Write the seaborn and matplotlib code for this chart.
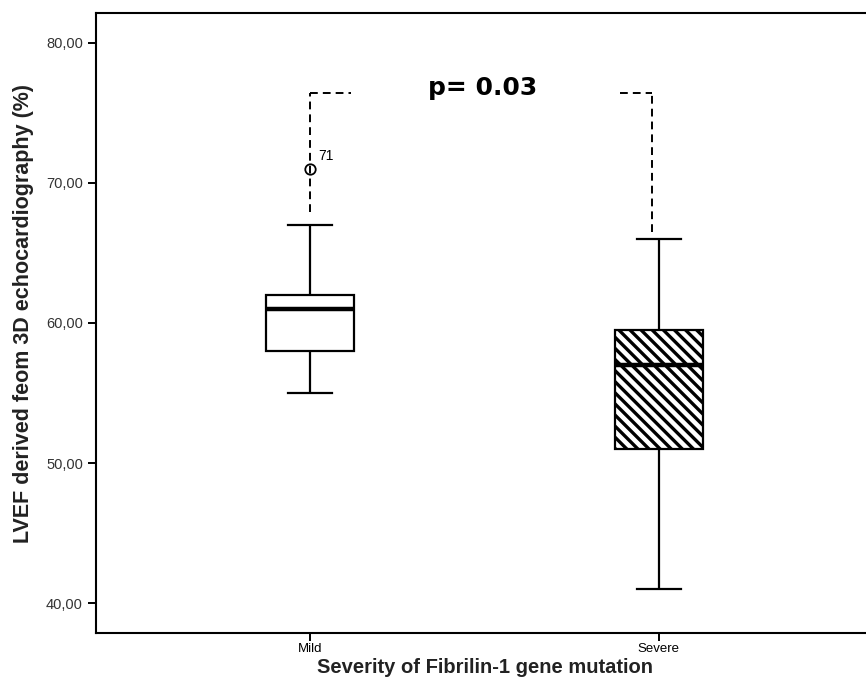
import matplotlib
matplotlib.use("Agg")
import matplotlib.pyplot as plt
import pandas as pd
import seaborn as sns

# data
categories = ["Mild", "Severe"]
mild_lvef = [55, 57, 58, 58, 59, 60, 61, 61, 62, 62, 62, 67, 71]
severe_lvef = [41, 46, 50, 51, 53, 55, 57, 58, 59, 59.5, 62, 64, 66]
y_ticks = [40, 50, 60, 70, 80]
y_tick_labels = ["40,00", "50,00", "60,00", "70,00", "80,00"]
outlier_case = "71"
outlier_value = 71
p_text = "p= 0.03"
bracket_top = 76.4
bracket_bottom = [67.9, 66.5]

df = pd.DataFrame({
    "severity": ["Mild"] * len(mild_lvef) + ["Severe"] * len(severe_lvef),
    "lvef": mild_lvef + severe_lvef,
})

plt.rcParams["font.family"] = ["Liberation Sans", "DejaVu Sans"]
plt.rcParams["hatch.linewidth"] = 2.4

fig = plt.figure(figsize=(8.66, 6.98), dpi=100)
ax = fig.add_axes([0.1109, 0.0931, 0.905, 0.8883])

sns.boxplot(
    data=df, x="severity", y="lvef", order=categories, ax=ax,
    width=0.25, color="white", linecolor="black", linewidth=1.6,
    whis=1.5,
    medianprops={"linewidth": 3.2, "color": "black"},
    flierprops={"marker": "o", "markerfacecolor": "none",
                "markeredgecolor": "black", "markersize": 7.5,
                "markeredgewidth": 1.3},
)
ax.patches[1].set_hatch("\\\\\\")

# dashed brackets for the p-value
dash = (0, (4, 2.6))
ax.plot([0, 0], [bracket_bottom[0], bracket_top], color="black", lw=1.4, ls=dash)
ax.plot([0, 0.117], [bracket_top, bracket_top], color="black", lw=1.4, ls=dash)
ax.plot([0.98, 0.98], [bracket_bottom[1], bracket_top], color="black", lw=1.4, ls=dash)
ax.plot([0.888, 0.98], [bracket_top, bracket_top], color="black", lw=1.4, ls=dash)

ax.text(0.023, outlier_value + 0.9, outlier_case, fontsize=10, va="center", ha="left")
ax.text(0.338, 76.8, p_text, fontsize=18, fontweight="bold",
        family="DejaVu Sans", va="center", ha="left")

ax.set_xlim(-0.613, 1.633)
ax.set_ylim(37.86, 82.14)
ax.set_yticks(y_ticks)
ax.set_yticklabels(y_tick_labels, fontsize=10.5, color="#333333")
ax.tick_params(axis="x", labelsize=9.5, length=6, width=1.4, pad=1.5)
ax.tick_params(axis="y", length=6, width=1.4)

for side in ["left", "bottom", "top"]:
    ax.spines[side].set_linewidth(1.5)
ax.spines["right"].set_visible(False)

ax.set_ylabel("LVEF derived feom 3D echocardiography (%)", fontsize=15.5,
              fontweight="bold", color="#222222")
ax.set_xlabel("Severity of Fibrilin-1 gene mutation", fontsize=14.5,
              fontweight="bold", color="#222222")
ax.yaxis.set_label_coords(-0.079, 0.515)
ax.xaxis.set_label_coords(0.496, -0.04)

fig.savefig("out.png", dpi=100)
